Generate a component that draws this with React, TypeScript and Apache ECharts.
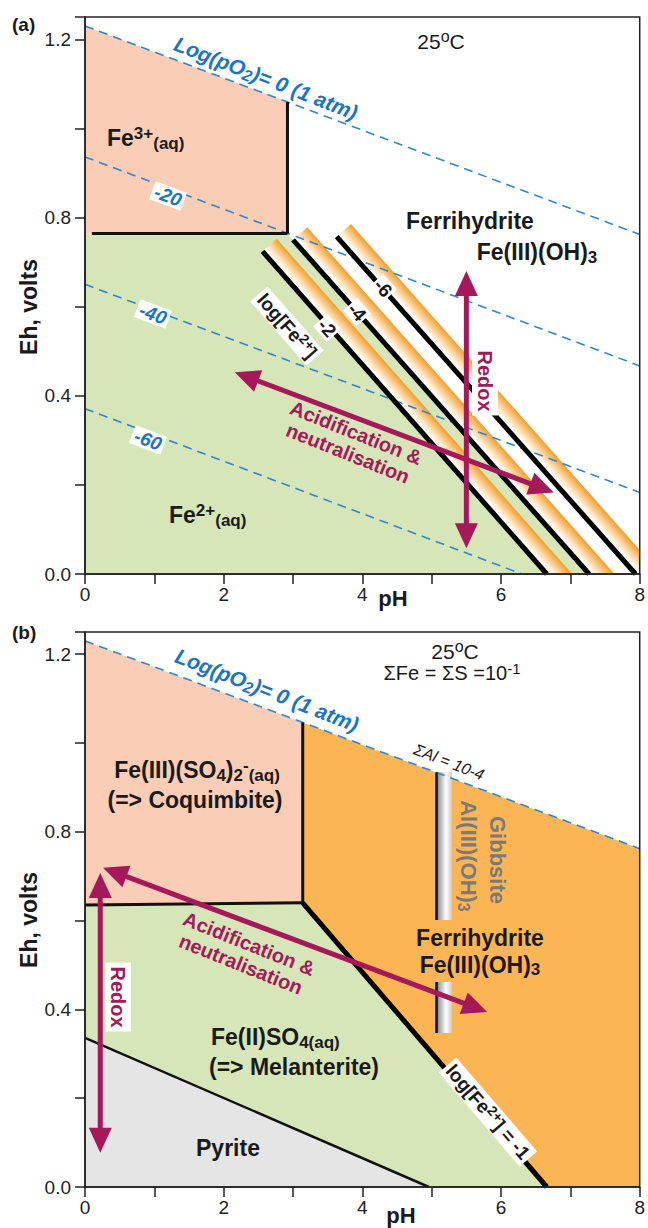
import React, { useEffect, useRef } from 'react';
import * as echarts from 'echarts';

// ---------------- axes ----------------
const PH_MIN = 0;
const PH_MAX = 8;
const EH_MIN = 0;
const EH_MAX = 1.25;

// ---------------- panel (a) ----------------
const A_FE3_REGION = [[0, 0.764], [0, 1.23], [2.92, 1.059], [2.92, 0.764]];
const A_FE2_REGION = [[0, 0], [0, 0.764], [2.92, 0.764], [7.27, 0]];
const A_O2_0 = [[0, 1.23], [8, 0.762]];
const A_O2_M20 = [[0, 0.936], [8, 0.467]];
const A_O2_M40 = [[0, 0.65], [8, 0.183]];
const A_O2_M60 = [[0, 0.371], [6.3, 0]];
const A_FE3_VERTICAL = [[2.92, 0.764], [2.92, 1.059]];
const A_FE3_FE2 = [[0.1, 0.764], [2.92, 0.764]];
// log[Fe2+] = -2, -4, -6 boundaries  [pH1, Eh1, pH2, Eh2]
const A_FE2_LINES = [[2.56, 0.724, 6.66, 0], [3.0, 0.75, 7.27, 0], [3.63, 0.757, 7.94, 0]];
const A_ARROWS = [[5.5, 0.058, 5.5, 0.68], [2.16, 0.453, 6.76, 0.183]];

// ---------------- panel (b) ----------------
const B_COQ_REGION = [[0, 0.635], [0, 1.23], [3.14, 1.046], [3.14, 0.64]];
const B_MEL_REGION = [[0, 0.336], [0, 0.635], [3.14, 0.64], [6.66, 0], [4.96, 0]];
const B_PYR_REGION = [[0, 0], [0, 0.336], [4.96, 0]];
const B_FH_REGION = [[3.14, 0.64], [3.14, 1.046], [8, 0.762], [8, 0], [6.66, 0]];
const B_O2_0 = [[0, 1.23], [8, 0.762]];
const B_COQ_MEL = [[0, 0.635], [3.14, 0.64]];
const B_COQ_FH = [[3.14, 0.64], [3.14, 1.046]];
const B_MEL_FH = [[3.14, 0.64], [6.66, 0]];
const B_PYR_MEL = [[0, 0.336], [4.96, 0]];
const B_GIBBSITE_BAND = [[5.08, 0.934, 5.29, 0.347]];
const B_GIBBSITE_EDGE = [[5.07, 0.934], [5.07, 0.347]];
const B_ARROWS = [[0.22, 0.077, 0.22, 0.707], [0.26, 0.719, 5.8, 0.394]];

// ---------------- colours ----------------
const C_TEXT = '#1a1a1a';
const C_AXIS = '#222222';
const C_BLUE = '#1b74c6';
const C_BLUE_LINE = '#2e86d4';
const C_ARROW = '#a5195b';
const C_SALMON = '#f9cdb6';
const C_GREEN = '#d7e6b8';
const C_ORANGE = '#fcb554';
const C_GRAY = '#e5e5e5';
const C_GIBBS_TEXT = '#7a7a7a';
const FONT = '"Liberation Sans", Arial, Helvetica, sans-serif';

function font(size: number, weight = 'bold', style = 'normal') {
  return { fontSize: size, fontWeight: weight, fontStyle: style, fontFamily: FONT };
}

function rich(size: number, color: string, weight: string, fstyle: string) {
  const s = Math.round(size * 0.74);
  return {
    b: { ...font(size, weight, fstyle), fill: color, lineHeight: size + 4 },
    sup: { ...font(s, weight, fstyle), fill: color, verticalAlign: 'top', lineHeight: s },
    sub: { ...font(s, weight, fstyle), fill: color, verticalAlign: 'bottom', lineHeight: s },
  };
}

function label(x: number, y: number, text: string, o: any) {
  const size = o.size;
  const color = o.color || C_TEXT;
  const weight = o.weight || 'bold';
  const fstyle = o.italic ? 'italic' : 'normal';
  const align = o.align || 'center';
  const style: any = {
    text,
    fill: color,
    ...font(size, weight, fstyle),
    align,
    textAlign: align,
    verticalAlign: 'middle',
    textVerticalAlign: 'middle',
  };
  if (o.lineHeight) style.lineHeight = o.lineHeight;
  if (text.indexOf('{') >= 0) style.rich = rich(size, color, weight, fstyle);
  if (o.bg) {
    style.backgroundColor = o.bg;
    style.padding = o.pad || [1, 3];
  }
  return { type: 'text', x, y, rotation: o.rot || 0, z: 100, silent: true, style };
}

function poly(pts: number[][], fill: string, g: number, z = 1) {
  return {
    type: 'custom', xAxisIndex: g, yAxisIndex: g, z, silent: true, clip: true,
    data: pts, encode: { x: 0, y: 1 },
    renderItem: (params: any, api: any) =>
      params.dataIndex !== 0 ? null : {
        type: 'polygon',
        shape: { points: pts.map((p) => api.coord(p)) },
        style: { fill },
      },
  };
}

function line(pts: number[][], color: string, width: number, g: number, z: number, dash?: any) {
  return {
    type: 'line', xAxisIndex: g, yAxisIndex: g, z, silent: true,
    data: pts, symbol: 'none', showSymbol: false,
    lineStyle: { color, width, type: dash || 'solid' },
    emphasis: { disabled: true },
  };
}

function bandRender(params: any, api: any) {
  const p1 = api.coord([api.value(0), api.value(1)]);
  const p2 = api.coord([api.value(2), api.value(3)]);
  const dx = p2[0] - p1[0], dy = p2[1] - p1[1];
  const len = Math.hypot(dx, dy);
  const ux = dx / len, uy = dy / len;
  const nx = uy, ny = -ux;
  const a = 2.5, b = 19, ext = 40;
  const q2 = [p2[0] + ux * ext, p2[1] + uy * ext];
  const pts = [
    [p1[0] + nx * a, p1[1] + ny * a],
    [q2[0] + nx * a, q2[1] + ny * a],
    [q2[0] + nx * b, q2[1] + ny * b],
    [p1[0] + nx * b, p1[1] + ny * b],
  ];
  const fill = new echarts.graphic.LinearGradient(
    p1[0] + nx * a, p1[1] + ny * a, p1[0] + nx * b, p1[1] + ny * b,
    [
      { offset: 0, color: '#ffffff' },
      { offset: 0.2, color: '#fff3e2' },
      { offset: 1, color: '#f59d28' },
    ],
    true
  );
  return { type: 'polygon', shape: { points: pts }, style: { fill } };
}

function gibbsRender(params: any, api: any) {
  const p1 = api.coord([api.value(0), api.value(1)]);
  const p2 = api.coord([api.value(2), api.value(3)]);
  return {
    type: 'rect',
    shape: { x: p1[0], y: p1[1], width: p2[0] - p1[0], height: p2[1] - p1[1] },
    style: {
      fill: new echarts.graphic.LinearGradient(0, 0, 1, 0, [
        { offset: 0, color: '#8a8a8a' },
        { offset: 0.6, color: '#ffffff' },
        { offset: 1, color: '#cccccc' },
      ]),
    },
  };
}

function arrowRender(params: any, api: any) {
  const p1 = api.coord([api.value(0), api.value(1)]);
  const p2 = api.coord([api.value(2), api.value(3)]);
  const dx = p2[0] - p1[0], dy = p2[1] - p1[1];
  const len = Math.hypot(dx, dy);
  const ux = dx / len, uy = dy / len;
  const nx = -uy, ny = ux;
  const L = 25, W = 11.5;
  const head = (tip: number[], s: number) => {
    const bx = tip[0] - s * ux * L, by = tip[1] - s * uy * L;
    return {
      type: 'polygon',
      shape: { points: [[tip[0], tip[1]], [bx + nx * W, by + ny * W], [bx - nx * W, by - ny * W]] },
      style: { fill: C_ARROW },
    };
  };
  return {
    type: 'group',
    children: [
      {
        type: 'line',
        shape: {
          x1: p1[0] + ux * (L - 4), y1: p1[1] + uy * (L - 4),
          x2: p2[0] - ux * (L - 4), y2: p2[1] - uy * (L - 4),
        },
        style: { stroke: C_ARROW, lineWidth: 5 },
      },
      head(p2, 1),
      head(p1, -1),
    ],
  };
}

function customSeries(rows: number[][], render: any, g: number, z: number) {
  return {
    type: 'custom', xAxisIndex: g, yAxisIndex: g, z, silent: true, clip: true,
    data: rows, encode: { x: [0, 2], y: [1, 3] }, renderItem: render,
  };
}

function buildOption() {
  const DASH = [9, 6];
  const xAxes = [0, 1].map((g) => ({
    type: 'value', gridIndex: g, min: PH_MIN, max: PH_MAX, interval: 1, z: 20,
    axisLine: { show: true, onZero: false, lineStyle: { color: C_AXIS, width: 1.5 } },
    axisTick: { show: true, length: 10, lineStyle: { color: C_AXIS, width: 1.5 } },
    axisLabel: {
      fontSize: 19, color: C_AXIS, fontFamily: FONT, margin: 11,
      formatter: (v: number) => (Math.round(v) % 2 === 0 ? String(v) : ''),
    },
    splitLine: { show: false },
  }));
  const yAxes = [0, 1].map((g) => ({
    type: 'value', gridIndex: g, min: EH_MIN, max: EH_MAX, interval: 0.2, z: 20,
    axisLine: { show: true, onZero: false, lineStyle: { color: C_AXIS, width: 1.5 } },
    axisTick: { show: true, length: 10, lineStyle: { color: C_AXIS, width: 1.5 } },
    axisLabel: {
      fontSize: 19, color: C_AXIS, fontFamily: FONT, margin: 14,
      formatter: (v: number) => {
        const k = v / 0.4;
        return Math.abs(k - Math.round(k)) < 1e-6 ? v.toFixed(1) : '';
      },
    },
    splitLine: { show: false },
  }));

  const series: any[] = [
    // ---- panel (a)
    poly(A_FE3_REGION, C_SALMON, 0),
    poly(A_FE2_REGION, C_GREEN, 0),
    customSeries(A_FE2_LINES, bandRender, 0, 2),
    line(A_O2_0, C_BLUE_LINE, 1.6, 0, 3, DASH),
    line(A_O2_M20, C_BLUE_LINE, 1.6, 0, 3, DASH),
    line(A_O2_M40, C_BLUE_LINE, 1.6, 0, 3, DASH),
    line(A_O2_M60, C_BLUE_LINE, 1.6, 0, 3, DASH),
    line(A_FE3_VERTICAL, '#111', 3, 0, 4),
    line(A_FE3_FE2, '#111', 3, 0, 4),
    ...A_FE2_LINES.map((r) => line([[r[0], r[1]], [r[2], r[3]]], '#000', 5, 0, 4)),
    customSeries(A_ARROWS, arrowRender, 0, 6),
    // ---- panel (b)
    poly(B_COQ_REGION, C_SALMON, 1),
    poly(B_MEL_REGION, C_GREEN, 1),
    poly(B_PYR_REGION, C_GRAY, 1),
    poly(B_FH_REGION, C_ORANGE, 1),
    customSeries(B_GIBBSITE_BAND, gibbsRender, 1, 2),
    line(B_O2_0, C_BLUE_LINE, 1.6, 1, 3, DASH),
    line(B_COQ_MEL, '#111', 3, 1, 4),
    line(B_COQ_FH, '#111', 3, 1, 4),
    line(B_MEL_FH, '#000', 5, 1, 4),
    line(B_PYR_MEL, '#111', 2.5, 1, 4),
    line(B_GIBBSITE_EDGE, '#111', 2.5, 1, 4),
    customSeries(B_ARROWS, arrowRender, 1, 6),
  ];

  const ROT_O2 = -0.37;
  const ROT_FE = -0.85;
  const graphic: any[] = [
    // ---- panel (a)
    label(12, 24, '(a)', { size: 19, align: 'left' }),
    label(441, 41, '{b|25}{sup|o}{b|C}', { size: 21, weight: 'normal' }),
    label(266, 78, '{b|Log(pO}{sub|2}{b|)= 0 (1 atm)}', { size: 21, color: C_BLUE, italic: true, rot: ROT_O2 }),
    label(168, 196, '-20', { size: 19, color: C_BLUE, italic: true, rot: -0.36, bg: '#fff', pad: [0, 3] }),
    label(153, 314, '-40', { size: 19, color: C_BLUE, italic: true, rot: -0.36, bg: '#fff', pad: [0, 3] }),
    label(148, 440, '-60', { size: 19, color: C_BLUE, italic: true, rot: -0.36, bg: '#fff', pad: [0, 3] }),
    label(107, 138, '{b|Fe}{sup|3+}{sub|(aq)}', { size: 23, align: 'left' }),
    label(169, 515, '{b|Fe}{sup|2+}{sub|(aq)}', { size: 23, align: 'left' }),
    label(470, 221, 'Ferrihydrite', { size: 23 }),
    label(537, 252, '{b|Fe(III)(OH)}{sub|3}', { size: 23 }),
    label(287, 326, '{b|log[Fe}{sup|2+}{b|]}', { size: 19, rot: ROT_FE, bg: '#fff', pad: [0, 3] }),
    label(327, 328, '-2', { size: 19, rot: ROT_FE, bg: '#fff', pad: [0, 2] }),
    label(357, 312, '-4', { size: 19, rot: ROT_FE, bg: '#fff', pad: [0, 2] }),
    label(383, 288, '-6', { size: 19, rot: ROT_FE, bg: '#fff', pad: [0, 2] }),
    label(485, 381, 'Redox', { size: 20, color: C_ARROW, rot: -Math.PI / 2, bg: '#fff', pad: [3, 4] }),
    label(352, 443, 'Acidification &\nneutralisation', { size: 20, color: C_ARROW, rot: -0.38, lineHeight: 22 }),
    label(29, 307, 'Eh, volts', { size: 23, rot: Math.PI / 2 }),
    label(393, 598, 'pH', { size: 22 }),
    // ---- panel (b)
    label(12, 632, '(b)', { size: 19, align: 'left' }),
    label(455, 651, '{b|25}{sup|o}{b|C}', { size: 21, weight: 'normal' }),
    label(452, 673, '{b|ΣFe = ΣS =10}{sup|-1}', { size: 20, weight: 'normal' }),
    label(267, 690, '{b|Log(pO}{sub|2}{b|)= 0 (1 atm)}', { size: 21, color: C_BLUE, italic: true, rot: ROT_O2 }),
    label(197, 770, '{b|Fe(III)(SO}{sub|4}{b|)}{sub|2}{sup|-}{sub|(aq)}', { size: 23 }),
    label(195, 800, '(=> Coquimbite)', { size: 23 }),
    label(480, 951, '{b|Ferrihydrite}\n{b|Fe(III)(OH)}{sub|3}', { size: 23, bg: C_ORANGE, pad: [4, 2] }),
    label(211, 1037, '{b|Fe(II)SO}{sub|4(aq)}', { size: 23, align: 'left' }),
    label(209, 1067, '(=> Melanterite)', { size: 23, align: 'left' }),
    label(228, 1148, 'Pyrite', { size: 23 }),
    label(488, 1112, '{b|log[Fe}{sup|2+}{b|] = -1}', { size: 19, rot: -0.86, bg: '#fff', pad: [0, 3] }),
    label(449, 762, 'ΣAl = 10-4', { size: 16, weight: 'normal', italic: true, rot: ROT_O2 }),
    label(497, 860, 'Gibbsite', { size: 22, color: C_GIBBS_TEXT, rot: -Math.PI / 2 }),
    label(468, 856, '{b|Al(III)(OH)}{sub|3}', { size: 22, color: C_GIBBS_TEXT, rot: -Math.PI / 2 }),
    label(118, 997, 'Redox', { size: 20, color: C_ARROW, rot: -Math.PI / 2, bg: '#fff', pad: [3, 4] }),
    label(245, 954, 'Acidification &\nneutralisation', { size: 20, color: C_ARROW, rot: -0.38, lineHeight: 22 }),
    label(29, 920, 'Eh, volts', { size: 23, rot: Math.PI / 2 }),
    label(401, 1215, 'pH', { size: 22 }),
  ];

  return {
    animation: false,
    backgroundColor: '#ffffff',
    textStyle: { fontFamily: FONT },
    grid: [
      { left: 85, top: 17, width: 556, height: 557, show: true, borderColor: C_AXIS, borderWidth: 1.5, backgroundColor: 'transparent', z: 20 },
      { left: 85, top: 632, width: 556, height: 555, show: true, borderColor: C_AXIS, borderWidth: 1.5, backgroundColor: 'transparent', z: 20 },
    ],
    xAxis: xAxes,
    yAxis: yAxes,
    series,
    graphic,
  };
}

export default function App() {
  const ref = useRef<HTMLDivElement>(null);
  useEffect(() => {
    document.body.style.margin = '0';
    const chart = echarts.init(ref.current as HTMLDivElement, null, { renderer: 'svg' });
    chart.setOption(buildOption() as any);
    return () => chart.dispose();
  }, []);
  return (
    <div
      ref={ref}
      style={{ position: 'absolute', left: 0, top: 0, width: 648, height: 1228, background: '#fff' }}
    />
  );
}
